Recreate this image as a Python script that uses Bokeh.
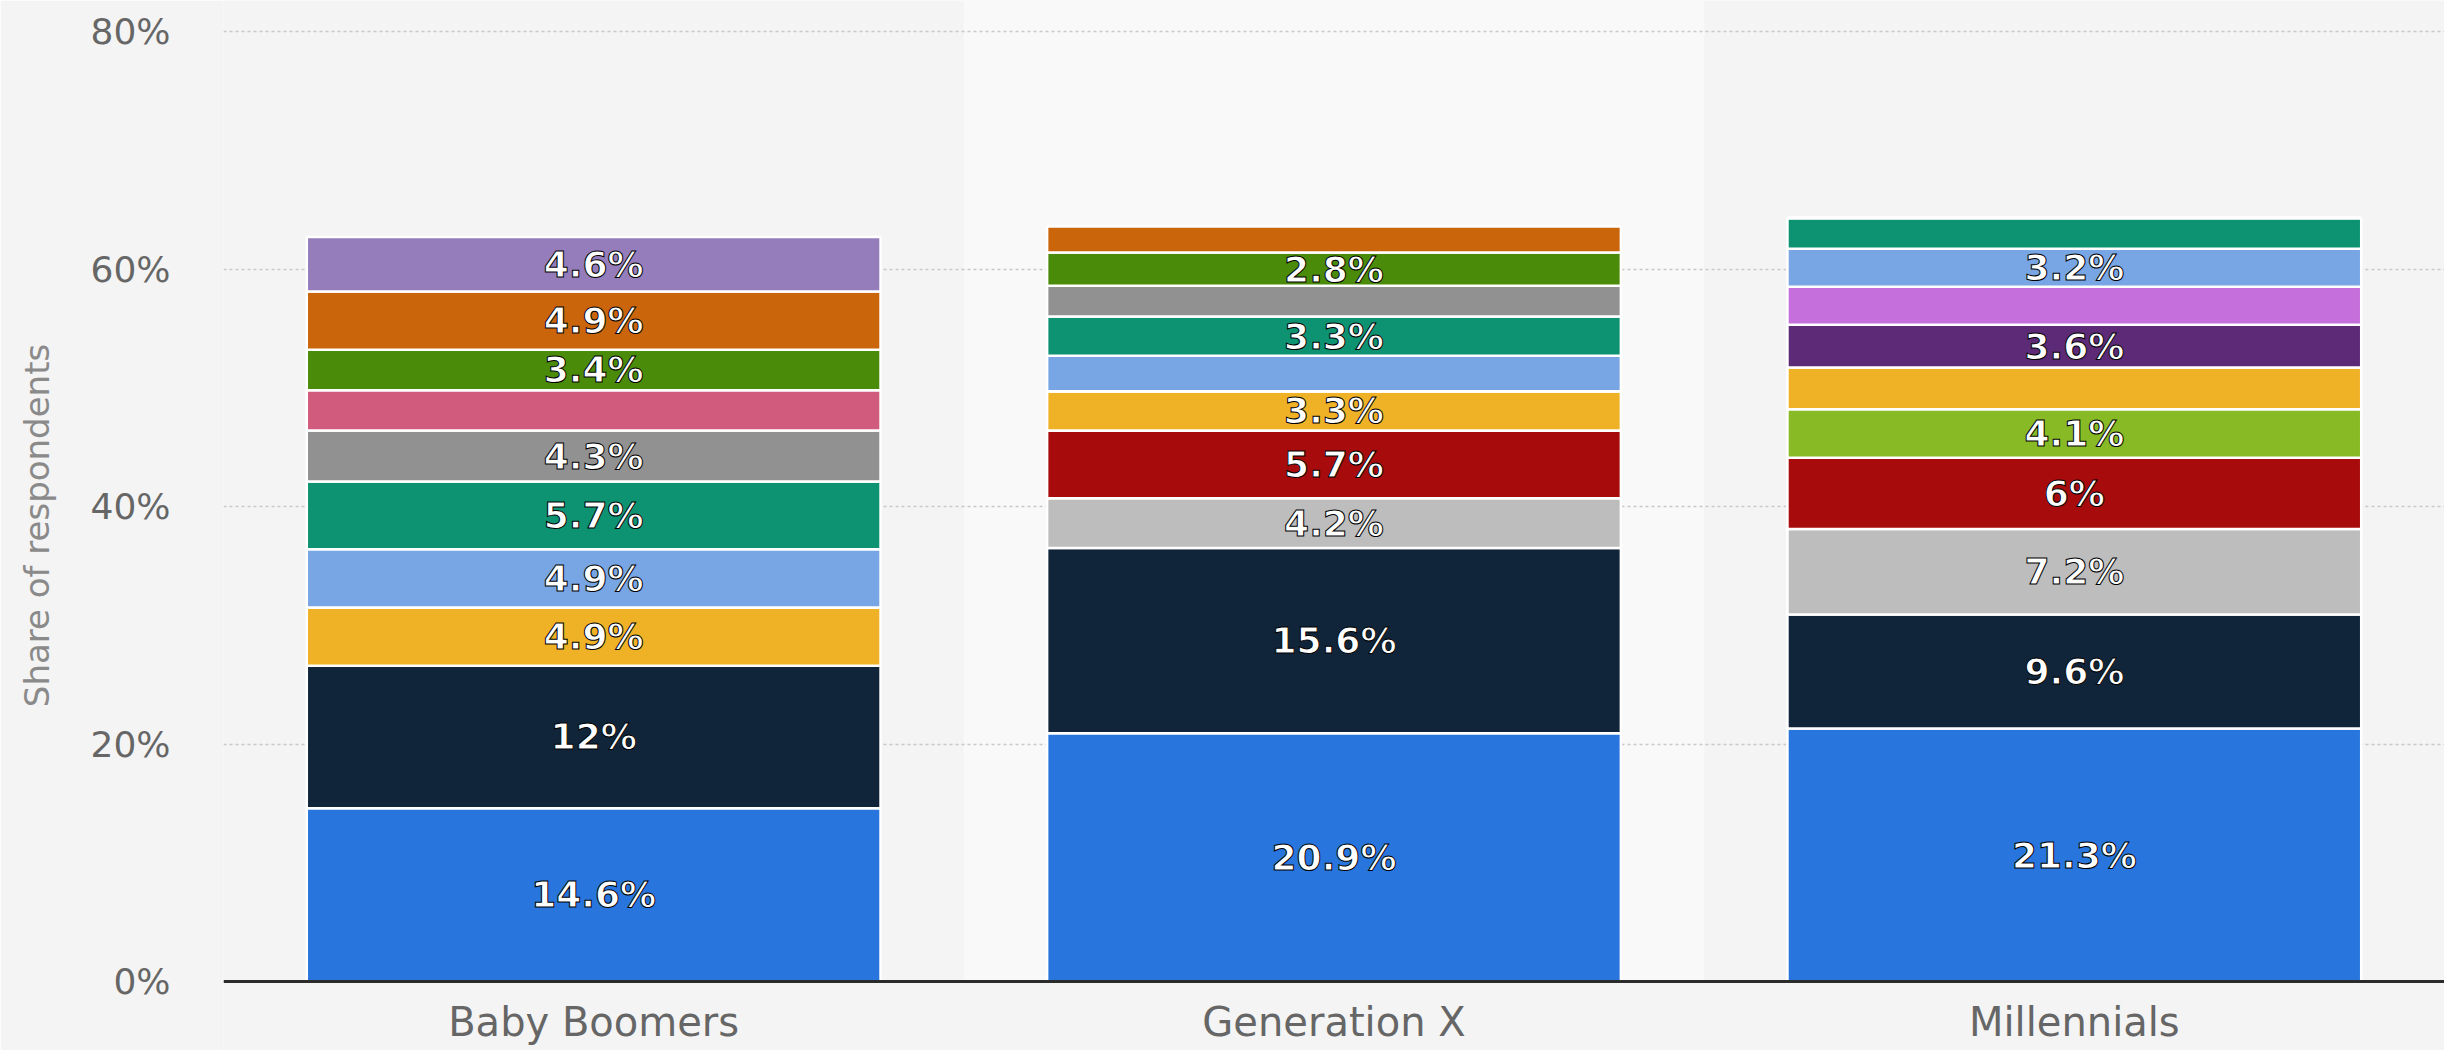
from bokeh.plotting import figure
from bokeh.models import ColumnDataSource, FactorRange, Range1d, FixedTicker, PrintfTickFormatter, Span
from bokeh.core.properties import value
from bokeh.embed import file_html
from bokeh.resources import INLINE

# ---------------- data ----------------
categories = ["Baby Boomers", "Generation X", "Millennials"]

series_keys = ["blue", "navy", "lightgray", "red", "lime", "yellow", "darkpurple",
               "violet", "lightblue", "teal", "gray", "pink", "green", "orange", "mauve"]

blue = [14.6, 20.9, 21.3]
navy = [12.0, 15.6, 9.6]
lightgray = [0, 4.2, 7.2]
red = [0, 5.7, 6.0]
lime = [0, 0, 4.1]
yellow = [4.9, 3.3, 3.5]
darkpurple = [0, 0, 3.6]
violet = [0, 0, 3.2]
lightblue = [4.9, 3.0, 3.2]
teal = [5.7, 3.3, 2.6]
gray = [4.3, 2.6, 0]
pink = [3.4, 0, 0]
green = [3.4, 2.8, 0]
orange = [4.9, 2.2, 0]
mauve = [4.6, 0, 0]

series_values = [blue, navy, lightgray, red, lime, yellow, darkpurple, violet,
                 lightblue, teal, gray, pink, green, orange, mauve]

colors = ["#2876dd", "#10253a", "#bdbdbd", "#a80b0b", "#87ba24", "#efb226", "#5c2a76",
          "#c56fdc", "#78a5e4", "#0d9372", "#919191", "#d05b7c", "#4a8c0a", "#cb650c", "#957dbb"]

# labels that the original chart hides (category index, series key)
hidden_labels = {(0, "pink"), (1, "lightblue"), (1, "gray"), (1, "orange"),
                 (2, "yellow"), (2, "violet"), (2, "teal")}

y_ticks = [0, 20, 40, 60, 80]

# ---------------- layout constants ----------------
W, H = 2444, 1050
px_per_unit = 11.875          # vertical scale of the reference
zero_px = 981                 # screen row of the 0% baseline
y_top = 80 + 31 / px_per_unit
y_bottom = -(H - zero_px) / px_per_unit
cat_label_y = -(1021 - zero_px) / px_per_unit

p = figure(x_range=FactorRange(*categories, range_padding=0),
           y_range=Range1d(y_bottom, y_top),
           width=W, height=H,
           output_backend="svg", toolbar_location=None,
           min_border_left=223, min_border_right=0, min_border_top=0, min_border_bottom=0,
           background_fill_color="#f4f4f4", border_fill_color="#f4f4f4")
p.outline_line_color = None

# lighter band behind the middle category
band = p.vbar(x=[categories[1]], top=[y_top], bottom=[0], width=1.0,
              fill_color="#f9f9f9", line_color=None)
band.level = "image"

data = {"cat": categories}
for k, v in zip(series_keys, series_values):
    data[k] = v
src = ColumnDataSource(data)

p.vbar_stack(series_keys, x="cat", width=0.775, source=src,
             fill_color=colors, line_color="white", line_width=2.5)

# data labels
lx, ly, lt = [], [], []
for ci, cat in enumerate(categories):
    base = 0.0
    for k, v in zip(series_keys, series_values):
        val = v[ci]
        if val > 0 and (ci, k) not in hidden_labels:
            lx.append(cat)
            ly.append(base + val / 2.0)
            lt.append(f"{val:g}%")
        base += val

lsrc = ColumnDataSource(dict(x=lx, y=ly, t=lt))
p.text(x="x", y="y", text="t", source=lsrc,
       text_font=value("DejaVu Sans"), text_font_size="36px", text_font_style="bold",
       text_color="white", text_align="center", text_baseline="middle",
       text_outline_color="black")

# baseline (x axis line)
p.add_layout(Span(location=0, dimension="width", line_color="#2b2b2b", line_width=3))

# category labels under the baseline
csrc = ColumnDataSource(dict(x=categories, y=[cat_label_y] * len(categories), t=categories))
p.text(x="x", y="y", text="t", source=csrc,
       text_font=value("DejaVu Sans"), text_font_size="40px",
       text_color="#666666", text_align="center", text_baseline="middle")

# axes
p.xaxis.visible = False

p.yaxis.ticker = FixedTicker(ticks=y_ticks)
p.yaxis.formatter = PrintfTickFormatter(format="%d%%")
p.yaxis.axis_line_color = None
p.yaxis.major_tick_line_color = None
p.yaxis.minor_tick_line_color = None
p.yaxis.major_label_text_font = "DejaVu Sans"
p.yaxis.major_label_text_font_size = "36px"
p.yaxis.major_label_text_color = "#666666"
p.yaxis.major_label_standoff = 47
p.yaxis.axis_label = "Share of respondents"
p.yaxis.axis_label_text_font = "DejaVu Sans"
p.yaxis.axis_label_text_font_size = "34px"
p.yaxis.axis_label_text_font_style = "normal"
p.yaxis.axis_label_text_color = "#8a8a8a"
p.yaxis.axis_label_standoff = 30

p.xgrid.grid_line_color = None
p.ygrid.ticker = FixedTicker(ticks=y_ticks[1:])
p.ygrid.grid_line_color = "#c8c8c8"
p.ygrid.grid_line_width = 1.5
p.ygrid.grid_line_dash = "3 3"

open("out.html", "w").write(file_html(p, INLINE))
